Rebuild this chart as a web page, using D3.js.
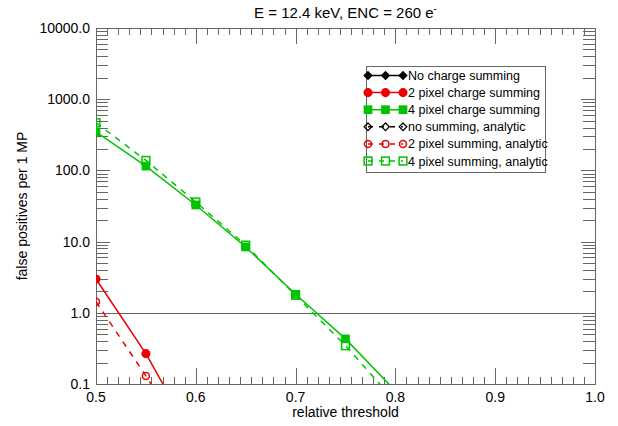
<!DOCTYPE html>
<html>
<head>
<meta charset="utf-8">
<script src="https://cdnjs.cloudflare.com/ajax/libs/d3/7.8.5/d3.min.js"></script>
<style>
body { margin: 0; background: #fff; }
text { font-family: "Liberation Sans", Arial, Helvetica, sans-serif; fill: #000; }
</style>
</head>
<body>
<div id="chart"></div>
<script>
// chart values
var titleText = "E = 12.4 keV, ENC = 260 e";
var xLabel = "relative threshold";
var yLabel = "false positives per 1 MP";
var thresholds = [0.5, 0.55, 0.6, 0.65, 0.7, 0.75, 0.8];
var xTicks = [0.5, 0.6, 0.7, 0.8, 0.9, 1.0];
var yTicks = [0.1, 1, 10, 100, 1000, 10000];

var noSumming = [0.02, 0.0008];
var twoPixel = [2.98, 0.267, 0.015];
var fourPixel = [347, 115, 32.7, 8.4, 1.82, 0.43, 0.08];
var noSummingAnalytic = [0.01, 0.0003];
var twoPixelAnalytic = [1.43, 0.13, 0.01];
var fourPixelAnalytic = [467, 138, 36, 8.9, 1.76, 0.345, 0.057];

var seriesNames = ["No charge summing", "2 pixel charge summing", "4 pixel charge summing",
	"no summing, analytic", "2 pixel summing, analytic", "4 pixel summing, analytic"];

var width = 618, height = 426;
var plotLeft = 96, plotRight = 595, plotTop = 28, plotBottom = 384;

var series = [
	{ name: seriesNames[0], values: noSumming, color: "#000000", marker: "diamond", filled: true, dashed: false },
	{ name: seriesNames[1], values: twoPixel, color: "#ee0000", marker: "circle", filled: true, dashed: false },
	{ name: seriesNames[2], values: fourPixel, color: "#00c400", marker: "square", filled: true, dashed: false },
	{ name: seriesNames[3], values: noSummingAnalytic, color: "#000000", marker: "diamond", filled: false, dashed: true },
	{ name: seriesNames[4], values: twoPixelAnalytic, color: "#ee0000", marker: "circle", filled: false, dashed: true },
	{ name: seriesNames[5], values: fourPixelAnalytic, color: "#00c400", marker: "square", filled: false, dashed: true }
];

var svg = d3.select("#chart").append("svg")
	.attr("width", width)
	.attr("height", height);

var x = d3.scaleLinear().domain([0.5, 1.0]).range([plotLeft, plotRight]);
var y = d3.scaleLog().domain([0.1, 10000]).range([plotBottom, plotTop]);

// tick marks (inside the box, on all four sides)
var xMinor = [];
for (var i = 0; i < 5; i++) {
	for (var k = 1; k < 9; k++) xMinor.push(xTicks[i] + k * 0.1 / 9);
}
var yMinor = [];
yTicks.slice(0, 5).forEach(function(t) {
	for (var k = 2; k < 10; k++) yMinor.push(t * k);
});

var axisColor = "#666";
var ticks = svg.append("g").attr("stroke", axisColor).attr("stroke-width", 1);

function addXTicks(vals, len) {
	vals.forEach(function(v) {
		var px = Math.round(x(v)) + 0.5;
		ticks.append("line").attr("x1", px).attr("x2", px).attr("y1", plotBottom).attr("y2", plotBottom - len);
		ticks.append("line").attr("x1", px).attr("x2", px).attr("y1", plotTop).attr("y2", plotTop + len);
	});
}
function addYTicks(vals, len) {
	vals.forEach(function(v) {
		var py = Math.round(y(v)) + 0.5;
		ticks.append("line").attr("x1", plotLeft).attr("x2", plotLeft + len).attr("y1", py).attr("y2", py);
		ticks.append("line").attr("x1", plotRight).attr("x2", plotRight - len).attr("y1", py).attr("y2", py);
	});
}
addXTicks(xMinor, 7);
addXTicks(xTicks, 16);
addYTicks(yMinor, 12);
addYTicks(yTicks, 14);

// horizontal line at 1.0
svg.append("line")
	.attr("x1", plotLeft).attr("x2", plotRight)
	.attr("y1", Math.round(y(1)) + 0.5).attr("y2", Math.round(y(1)) + 0.5)
	.attr("stroke", axisColor);

// box
svg.append("rect")
	.attr("x", plotLeft + 0.5).attr("y", plotTop + 0.5)
	.attr("width", plotRight - plotLeft).attr("height", plotBottom - plotTop)
	.attr("fill", "none").attr("stroke", axisColor);

// tick labels
svg.append("g").selectAll("text")
	.data(xTicks).enter().append("text")
	.attr("x", function(d) { return x(d); })
	.attr("y", 402)
	.style("font-size", "14px")
	.style("text-anchor", "middle")
	.text(function(d) { return d.toFixed(1); });

svg.append("g").selectAll("text")
	.data(yTicks).enter().append("text")
	.attr("x", 90)
	.attr("y", function(d) { return y(d) + 5; })
	.style("font-size", "14px")
	.style("text-anchor", "end")
	.text(function(d) { return d.toFixed(1); });

// axis titles
svg.append("text")
	.attr("x", (plotLeft + plotRight) / 2)
	.attr("y", 417)
	.style("font-size", "14px")
	.style("text-anchor", "middle")
	.text(xLabel);

svg.append("text")
	.attr("transform", "translate(27," + ((plotTop + plotBottom) / 2) + ") rotate(-90)")
	.style("font-size", "14px")
	.style("text-anchor", "middle")
	.text(yLabel);

var title = svg.append("text")
	.attr("x", (plotLeft + plotRight) / 2)
	.attr("y", 18)
	.style("font-size", "15px")
	.style("text-anchor", "middle")
	.text(titleText);
title.append("tspan")
	.attr("dy", -6)
	.style("font-size", "10px")
	.text("-");

// data
svg.append("clipPath").attr("id", "plotclip")
	.append("rect")
	.attr("x", plotLeft).attr("y", plotTop)
	.attr("width", plotRight - plotLeft).attr("height", plotBottom - plotTop);

var plot = svg.append("g").attr("clip-path", "url(#plotclip)");

var line = d3.line()
	.x(function(d, i) { return x(thresholds[i]); })
	.y(function(d) { return y(d); });

function drawMarker(g, s, cx, cy) {
	var fill = s.filled ? s.color : "none";
	if (s.marker == "circle") {
		g.append("circle").attr("cx", cx).attr("cy", cy).attr("r", s.filled ? 3.8 : 3.5)
			.attr("fill", fill).attr("stroke", s.color).attr("stroke-width", 1.5);
	} else if (s.marker == "square") {
		var h = s.filled ? 3.6 : 3.9;
		g.append("rect").attr("x", cx - h).attr("y", cy - h).attr("width", 2 * h).attr("height", 2 * h)
			.attr("fill", fill).attr("stroke", s.color).attr("stroke-width", 1.5);
	} else {
		var r = 3.8;
		g.append("path")
			.attr("d", "M" + cx + "," + (cy - r) + "L" + (cx + r) + "," + cy + "L" + cx + "," + (cy + r) + "L" + (cx - r) + "," + cy + "Z")
			.attr("fill", fill).attr("stroke", s.color).attr("stroke-width", 1.3);
	}
}

series.forEach(function(s) {
	plot.append("path")
		.datum(s.values)
		.attr("d", line)
		.attr("fill", "none")
		.attr("stroke", s.color)
		.attr("stroke-width", 1.5)
		.attr("stroke-dasharray", s.dashed ? "6,6" : null);
	s.values.forEach(function(v, i) {
		drawMarker(plot, s, x(thresholds[i]), y(v));
	});
});

// legend
var legend = svg.append("g");
legend.append("rect")
	.attr("x", 366.5).attr("y", 66.5)
	.attr("width", 179).attr("height", 106)
	.attr("fill", "#fff").attr("stroke", axisColor);

series.forEach(function(s, i) {
	var ly = 75.5 + i * 17.1;
	legend.append("line")
		.attr("x1", 368).attr("x2", 403)
		.attr("y1", ly).attr("y2", ly)
		.attr("stroke", s.color)
		.attr("stroke-width", 1.5)
		.attr("stroke-dasharray", s.dashed ? "5,6" : null);
	[368, 385.5, 403].forEach(function(mx) {
		drawMarker(legend, s, mx, ly);
	});
	legend.append("text")
		.attr("x", 408)
		.attr("y", ly + 4.5)
		.style("font-size", "12.5px")
		.text(s.name);
});
</script>
</body>
</html>
